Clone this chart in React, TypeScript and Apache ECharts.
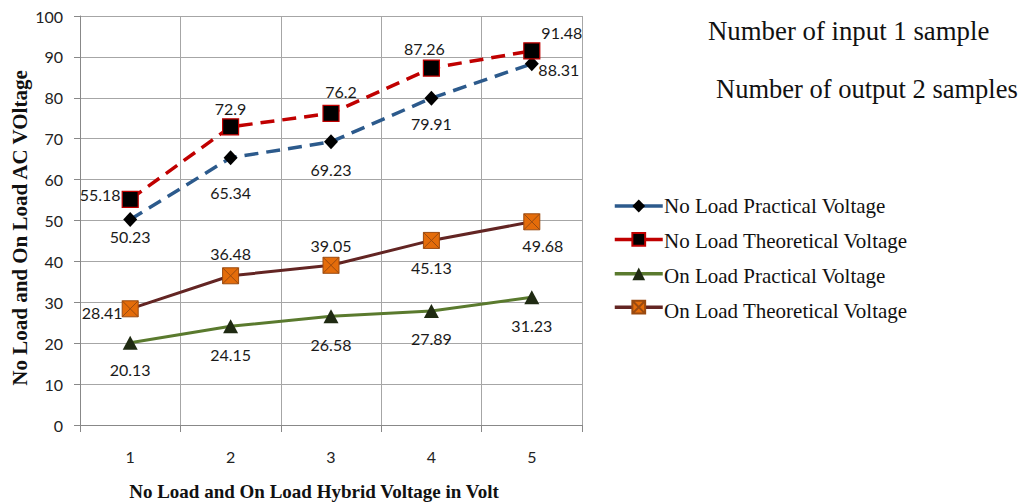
import React, { useEffect, useRef } from "react";
import * as echarts from "echarts";

const categories = ["1", "2", "3", "4", "5"];
const noLoadPractical = [50.23, 65.34, 69.23, 79.91, 88.31];
const noLoadTheoretical = [55.18, 72.9, 76.2, 87.26, 91.48];
const onLoadPractical = [20.13, 24.15, 26.58, 27.89, 31.23];
const onLoadTheoretical = [28.41, 36.48, 39.05, 45.13, 49.68];
const seriesNames = [
  "No Load Practical Voltage",
  "No Load Theoretical Voltage",
  "On Load Practical Voltage",
  "On Load Theoretical Voltage",
];
const noteLines = ["Number of input 1 sample", "Number of output 2 samples"];
const yAxisTitle = "No Load and On Load AC VOltage";
const xAxisTitle = "No Load and On Load Hybrid Voltage in Volt";

const LABEL_FONT = "Lato";
const SERIF = "Liberation Serif";

// label offsets [dx, dy] relative to the point centre (style only)
const offNLP = [[0, 17], [0, 35], [0, 28], [0, 25], [27, 6]];
const offNLT = [[-30, -5], [0, -18], [10, -22], [-7, -20], [30, -18]];
const offOLP = [[0, 27], [0, 28], [0, 28], [0, 28], [0, 28]];
const offOLT = [[-28, 4], [0, -22], [0, -20], [0, 27], [11, 24]];

// legend layout (style only)
const LEGEND_TOP = 193;
const LEGEND_STEP = 35;

function withLabels(values: number[], offs: number[][]) {
  return values.map((v, i) => ({
    value: v,
    label: {
      show: true,
      position: "inside",
      offset: offs[i],
      formatter: String(v),
    },
  }));
}

const orangeX = "path://M0,0H10V10H0Z M0,0L10,10 M10,0L0,10";

export default function App() {
  const ref = useRef<HTMLDivElement>(null);
  useEffect(() => {
    if (!ref.current) return;
    const chart = echarts.init(ref.current, undefined, { renderer: "svg" });
    const labelStyle = {
      fontFamily: LABEL_FONT,
      fontSize: 16,
      color: "#1a1a1a",
    };
    const legendTexts = seriesNames.map((name, i) => ({
      type: "text",
      x: 664,
      y: LEGEND_TOP + 5 + 8 + i * LEGEND_STEP,
      style: {
        text: name,
        font: `21px ${SERIF}`,
        fill: "#111111",
        align: "left",
        verticalAlign: "middle",
      },
    }));
    chart.setOption({
      animation: false,
      backgroundColor: "#ffffff",
      grid: { left: 80, top: 16, width: 502, height: 409, containLabel: false },
      xAxis: {
        type: "category",
        data: categories,
        boundaryGap: true,
        axisLine: { lineStyle: { color: "#888888", width: 1 } },
        axisTick: { show: true, length: 7, lineStyle: { color: "#888888" } },
        axisLabel: {
          margin: 23,
          fontFamily: LABEL_FONT,
          fontSize: 16,
          color: "#222222",
        },
        splitLine: { show: true, lineStyle: { color: "#a6a6a6", width: 1 } },
      },
      yAxis: {
        type: "value",
        min: 0,
        max: 100,
        interval: 10,
        axisLine: { show: true, lineStyle: { color: "#888888", width: 1 } },
        axisTick: { show: true, length: 6, lineStyle: { color: "#888888" } },
        axisLabel: {
          margin: 17,
          fontFamily: LABEL_FONT,
          fontSize: 16,
          color: "#222222",
        },
        splitLine: { show: true, lineStyle: { color: "#a6a6a6", width: 1 } },
      },
      legend: {
        orient: "vertical",
        left: 608,
        top: LEGEND_TOP,
        padding: 5,
        itemWidth: 48,
        itemHeight: 16,
        itemGap: LEGEND_STEP - 16,
        lineStyle: { type: "solid", width: 3.5 },
        formatter: () => "",
        textStyle: { fontSize: 1, padding: 0 },
        data: seriesNames,
      },
      series: [
        {
          name: seriesNames[0],
          type: "line",
          data: withLabels(noLoadPractical, offNLP),
          lineStyle: { color: "#2c5a8c", width: 3.5, type: [14, 8] },
          itemStyle: { color: "#000000" },
          symbol: "diamond",
          symbolSize: [14, 15],
          label: labelStyle,
          z: 3,
        },
        {
          name: seriesNames[1],
          type: "line",
          data: withLabels(noLoadTheoretical, offNLT),
          lineStyle: { color: "#c00000", width: 3.5, type: [14, 8] },
          itemStyle: { color: "#000000", borderColor: "#c00000", borderWidth: 1.2 },
          symbol: "rect",
          symbolSize: 16,
          label: labelStyle,
          z: 4,
        },
        {
          name: seriesNames[2],
          type: "line",
          data: withLabels(onLoadPractical, offOLP),
          lineStyle: { color: "#5a7a2e", width: 3 },
          itemStyle: { color: "#1f2a12" },
          symbol: "triangle",
          symbolSize: [15, 14],
          label: labelStyle,
          z: 3,
        },
        {
          name: seriesNames[3],
          type: "line",
          data: withLabels(onLoadTheoretical, offOLT),
          lineStyle: { color: "#632523", width: 3 },
          itemStyle: { color: "#e46c0a", borderColor: "#9a4a10", borderWidth: 1 },
          symbol: orangeX,
          symbolSize: 16,
          symbolKeepAspect: true,
          label: labelStyle,
          z: 3,
        },
      ],
      graphic: [
        ...legendTexts,
        {
          type: "text",
          left: 708,
          top: 17,
          style: { text: noteLines[0], font: `26.8px ${SERIF}`, fill: "#111111" },
        },
        {
          type: "text",
          left: 716,
          top: 75,
          style: { text: noteLines[1], font: `26.5px ${SERIF}`, fill: "#111111" },
        },
        {
          type: "text",
          x: 20,
          y: 228,
          rotation: Math.PI / 2,
          style: {
            text: yAxisTitle,
            font: `bold 21px ${SERIF}`,
            fill: "#111111",
            align: "center",
            verticalAlign: "middle",
          },
        },
        {
          type: "text",
          x: 314,
          y: 491,
          style: {
            text: xAxisTitle,
            font: `bold 19px ${SERIF}`,
            fill: "#111111",
            align: "center",
            verticalAlign: "middle",
          },
        },
      ],
    });
    return () => chart.dispose();
  }, []);
  return (
    <div
      ref={ref}
      style={{ position: "absolute", left: 0, top: 0, width: 1026, height: 502 }}
    />
  );
}
